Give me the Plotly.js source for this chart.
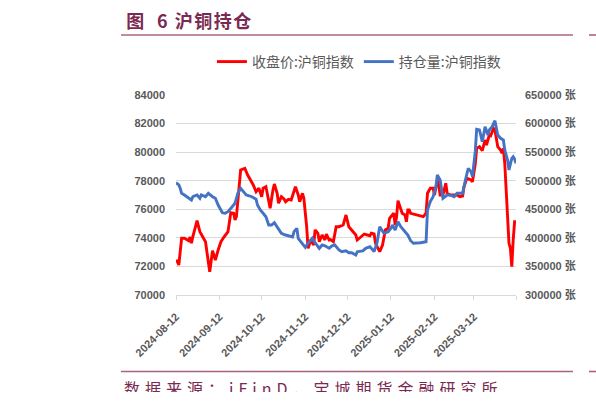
<!DOCTYPE html>
<html>
<head>
<meta charset="utf-8">
<script src="https://cdn.plot.ly/plotly-3.0.1.min.js"></script>
<style>
  html, body { margin: 0; padding: 0; background: #ffffff; }
  body { width: 596px; height: 409px; overflow: hidden; }
  #chart { width: 596px; height: 392px; overflow: hidden; }
  g.annotation[data-index="0"] text { letter-spacing: 1.5px; }
  g.annotation[data-index="2"] text { letter-spacing: 5px; }
</style>
</head>
<body>
<div id="chart"></div>
<script>
// ---- data ----
const closeDates = [
  '2024-08-12','2024-08-13','2024-08-14','2024-08-16','2024-08-18','2024-08-21','2024-08-22','2024-08-23','2024-08-24','2024-08-27','2024-08-29','2024-08-31',
  '2024-09-02','2024-09-04','2024-09-05','2024-09-07','2024-09-09','2024-09-11','2024-09-13','2024-09-15','2024-09-18','2024-09-20','2024-09-22','2024-09-23','2024-09-24','2024-09-27','2024-09-30',
  '2024-10-02','2024-10-06','2024-10-08','2024-10-10','2024-10-12','2024-10-13','2024-10-15','2024-10-17','2024-10-18','2024-10-20','2024-10-21','2024-10-23','2024-10-24','2024-10-26','2024-10-28','2024-10-29','2024-10-31',
  '2024-11-02','2024-11-05','2024-11-07','2024-11-08','2024-11-10','2024-11-11','2024-11-13','2024-11-14','2024-11-16','2024-11-18','2024-11-19','2024-11-21','2024-11-22','2024-11-24','2024-11-26','2024-11-27','2024-11-29','2024-11-30',
  '2024-12-02','2024-12-04','2024-12-06','2024-12-09','2024-12-11','2024-12-13','2024-12-15','2024-12-18','2024-12-19','2024-12-22','2024-12-24','2024-12-28','2024-12-29','2024-12-31',
  '2025-01-01','2025-01-04','2025-01-06','2025-01-08','2025-01-10','2025-01-11','2025-01-13','2025-01-14','2025-01-15','2025-01-16','2025-01-17','2025-01-19','2025-01-20','2025-01-22','2025-01-23','2025-01-24','2025-01-25','2025-01-26','2025-01-31',
  '2025-02-04','2025-02-06','2025-02-07','2025-02-09','2025-02-11','2025-02-12','2025-02-14','2025-02-15','2025-02-16','2025-02-18','2025-02-20','2025-02-21','2025-02-23','2025-02-28',
  '2025-03-02','2025-03-04','2025-03-05','2025-03-07','2025-03-10','2025-03-11','2025-03-13','2025-03-14','2025-03-16','2025-03-18','2025-03-20','2025-03-21','2025-03-23','2025-03-24','2025-03-26','2025-03-27','2025-03-29','2025-03-31',
  '2025-04-01','2025-04-02','2025-04-03','2025-04-04','2025-04-05','2025-04-06','2025-04-07','2025-04-08','2025-04-09','2025-04-10','2025-04-11'
];
const closeValues = [
  72450,72330,72100,73970,73970,73800,74050,73620,74080,75200,74430,74080,
  73730,72330,71630,73100,72450,73150,73730,74040,74430,75760,75720,75250,75480,78750,78870,
  78400,77700,77230,77470,76880,77470,77580,76420,76070,77350,77770,77120,76420,76880,76700,76530,76700,
  76650,77580,77000,76530,77120,76770,74780,73270,73850,73500,74550,74320,73730,74200,73850,74270,73850,73880,
  73730,74780,74780,74900,75600,74780,74550,74200,73850,74080,74270,74150,74320,74270,
  73620,73030,73500,74550,74670,75370,75600,75720,74900,75480,76600,76070,75720,75600,75130,75950,75950,75720,75600,
  75480,75720,77120,77470,77470,77000,78050,77700,77000,77000,77820,77120,77000,77000,
  76880,76930,77580,78170,78050,77930,79170,80270,80380,80100,80850,80500,81200,81150,81670,81550,80380,80150,
  79920,80270,79220,77350,75250,73620,73270,71990,73850,75130,75130
];
const oiDates = [
  '2024-08-12','2024-08-14','2024-08-15','2024-08-16','2024-08-18','2024-08-21','2024-08-23','2024-08-24','2024-08-27','2024-08-29','2024-08-30',
  '2024-09-02','2024-09-04','2024-09-07','2024-09-09','2024-09-11','2024-09-14','2024-09-16','2024-09-18','2024-09-21','2024-09-23','2024-09-25','2024-09-27','2024-09-29',
  '2024-10-01','2024-10-05','2024-10-08','2024-10-09','2024-10-11','2024-10-13','2024-10-15','2024-10-17','2024-10-19','2024-10-21','2024-10-24','2024-10-26','2024-10-29',
  '2024-11-01','2024-11-03','2024-11-04','2024-11-06','2024-11-07','2024-11-10','2024-11-12','2024-11-14','2024-11-17','2024-11-19','2024-11-22','2024-11-24','2024-11-26','2024-11-29',
  '2024-12-01','2024-12-03','2024-12-06','2024-12-08','2024-12-11','2024-12-13','2024-12-15','2024-12-18','2024-12-19','2024-12-23','2024-12-25','2024-12-28','2024-12-31',
  '2025-01-02','2025-01-04','2025-01-07','2025-01-10','2025-01-12','2025-01-13','2025-01-15','2025-01-17','2025-01-19','2025-01-22','2025-01-24','2025-01-26','2025-01-28',
  '2025-02-02','2025-02-06','2025-02-07','2025-02-09','2025-02-11','2025-02-13','2025-02-14','2025-02-16','2025-02-18','2025-02-21','2025-02-23','2025-02-26','2025-02-28',
  '2025-03-04','2025-03-06','2025-03-08','2025-03-10','2025-03-11','2025-03-13','2025-03-14','2025-03-16','2025-03-18','2025-03-20','2025-03-22','2025-03-23','2025-03-25','2025-03-27','2025-03-29','2025-03-31',
  '2025-04-02','2025-04-03','2025-04-05','2025-04-06','2025-04-07','2025-04-08','2025-04-09','2025-04-10','2025-04-11'
];
const oiValues = [
  496600,492500,486700,478000,475000,469200,466300,472000,475000,469200,475000,
  472000,478000,472000,469200,457500,444100,443000,445800,454500,460500,478000,486700,480800,
  475000,472000,467500,457500,448700,443000,437000,422500,422500,426600,416700,408000,405000,
  403250,401600,410800,416700,399200,390500,383500,390500,399200,391500,381700,387500,386000,381700,
  386000,387500,378800,375800,377300,374000,374000,370000,375800,377300,381700,384600,376000,
  390500,419500,408000,410800,416700,422500,413800,428300,419500,410800,405000,395000,390500,
  391500,393300,448700,463400,472000,489600,510000,501250,469200,475000,475000,472000,478000,
  478000,501250,521700,515800,507000,550800,590000,588750,568300,594600,580000,588750,594600,605000,580000,574200,
  571250,553750,536250,518750,527500,539200,542100,538000,530400
];
const tickDates = ['2024-08-12','2024-09-12','2024-10-12','2024-11-12','2024-12-12','2025-01-12','2025-02-12','2025-03-12','2025-04-11'];
const tickLabels = ['2024-08-12','2024-09-12','2024-10-12','2024-11-12','2024-12-12','2025-01-12','2025-02-12','2025-03-12',''];
const seriesNames = ['收盘价:沪铜指数','持仓量:沪铜指数'];
const chartTitle = '图  6 沪铜持仓';
const sourceText = '数据来源：iFinD，宝城期货金融研究所';

// ---- chart ----
const grey = '#595959';
const maroon = '#7a2a52';
const lineCol = '#a8647f';
const tickFont = {family: 'Liberation Sans, Noto Sans CJK SC, sans-serif', size: 11, color: grey, weight: 'bold'};

const traces = [
  {x: closeDates, y: closeValues, name: seriesNames[0], type: 'scatter', mode: 'lines',
   line: {color: '#ff0000', width: 2.9}, yaxis: 'y'},
  {x: oiDates, y: oiValues, name: seriesNames[1], type: 'scatter', mode: 'lines',
   line: {color: '#4472c4', width: 2.9}, yaxis: 'y2'}
];

const layout = {
  width: 596, height: 392,
  margin: {l: 176, r: 80, t: 95, b: 97},
  paper_bgcolor: '#ffffff', plot_bgcolor: '#ffffff',
  showlegend: true,
  legend: {orientation: 'h', x: 0.538, xanchor: 'center', y: 1.165, yanchor: 'middle',
           font: {family: 'Noto Sans CJK SC, sans-serif', size: 14, color: grey},
           itemwidth: 30, bgcolor: 'rgba(0,0,0,0)'},
  xaxis: {type: 'date', range: ['2024-08-12', '2025-04-11'],
          tickmode: 'array', tickvals: tickDates, ticktext: tickLabels,
          tickangle: -45, tickfont: tickFont, ticklabelstandoff: 6,
          showgrid: false, zeroline: false,
          showline: true, linecolor: '#d9d9d9', linewidth: 1,
          ticks: 'outside', ticklen: 4, tickcolor: '#d9d9d9', tickwidth: 1},
  yaxis: {range: [70000, 84000], dtick: 2000, tick0: 70000,
          tickfont: tickFont, tickformat: 'd',
          showgrid: true, gridcolor: '#d9d9d9', gridwidth: 1,
          zeroline: false, showline: false, ticks: '', ticklabelstandoff: 10},
  yaxis2: {range: [300000, 650000], dtick: 50000, tick0: 300000,
           overlaying: 'y', side: 'right', tickformat: 'd', ticksuffix: ' 张',
           tickfont: tickFont, showgrid: false, zeroline: false, showline: false,
           ticks: '', ticklabelstandoff: 8},
  shapes: [
    {type: 'line', xref: 'paper', yref: 'paper', x0: -0.1618, x1: 1.1676, y0: 1.3, y1: 1.3,
     line: {color: lineCol, width: 1.6}},
    {type: 'line', xref: 'paper', yref: 'paper', x0: 1.2147, x1: 1.26, y0: 1.3, y1: 1.3,
     line: {color: lineCol, width: 1.6}},
    {type: 'line', xref: 'paper', yref: 'paper', x0: -0.1618, x1: 1.1676, y0: -0.3825, y1: -0.3825,
     line: {color: lineCol, width: 1.6}},
    {type: 'line', xref: 'paper', yref: 'paper', x0: 1.2147, x1: 1.26, y0: -0.3825, y1: -0.3825,
     line: {color: lineCol, width: 1.6}}
  ],
  annotations: [
    {text: chartTitle, xref: 'paper', yref: 'paper', x: -0.133, y: 1.375, xanchor: 'left', yanchor: 'middle',
     showarrow: false, font: {family: 'Noto Sans CJK SC, sans-serif', size: 18, color: maroon, weight: 'bold'}},
    {text: '图', xref: 'paper', yref: 'paper', x: 1.24, y: 1.375, xanchor: 'left', yanchor: 'middle',
     showarrow: false, font: {family: 'Noto Sans CJK SC, sans-serif', size: 18, color: maroon, weight: 'bold'}},
    {text: sourceText, xref: 'paper', yref: 'paper', x: -0.011, y: -0.397, xanchor: 'left', yanchor: 'top',
     showarrow: false, font: {family: 'Noto Sans CJK SC, sans-serif', size: 16, color: maroon}},
    {text: '数', xref: 'paper', yref: 'paper', x: 1.238, y: -0.397, xanchor: 'left', yanchor: 'top',
     showarrow: false, font: {family: 'Noto Sans CJK SC, sans-serif', size: 16, color: maroon}}
  ]
};

Plotly.newPlot('chart', traces, layout, {displayModeBar: false, staticPlot: true});
</script>
</body>
</html>
